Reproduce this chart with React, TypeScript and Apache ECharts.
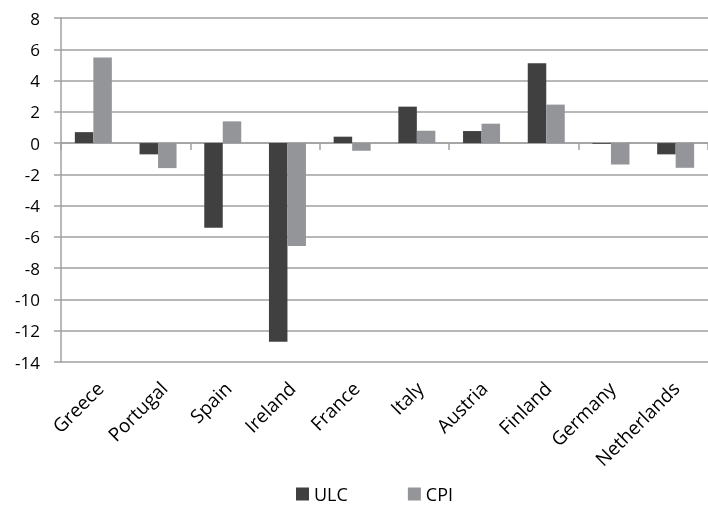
import React, { useEffect, useRef } from "react";
import * as echarts from "echarts";

const categories = ["Greece", "Portugal", "Spain", "Ireland", "France", "Italy", "Austria", "Finland", "Germany", "Netherlands"];
const ulc = [0.7, -0.72, -5.42, -12.71, 0.41, 2.33, 0.77, 5.11, -0.05, -0.72];
const cpi = [5.47, -1.6, 1.39, -6.58, -0.49, 0.79, 1.24, 2.46, -1.37, -1.58];
const yMin = -14;
const yMax = 8;
const yStep = 2;

export default function App() {
  const ref = useRef<HTMLDivElement>(null);
  useEffect(() => {
    if (!ref.current) return;
    const chart = echarts.init(ref.current, null, { renderer: "svg" });
    const font = "'Open Sans', sans-serif";
    const grey = "#a0a0a0";
    chart.setOption({
      animation: false,
      textStyle: { fontFamily: font },
      grid: [
        { left: 61, right: -8, top: 18, bottom: 143, containLabel: false },
        { left: 68, right: -15, top: 18, bottom: 143, containLabel: false },
      ],
      legend: {
        top: 480,
        left: 291,
        itemWidth: 13,
        itemHeight: 13,
        itemGap: 60,
        icon: "rect",
        textStyle: { fontSize: 18, color: "#000", fontFamily: font },
        data: ["ULC", "CPI"],
      },
      xAxis: [
        {
          type: "category",
          gridIndex: 0,
          data: categories,
          position: "bottom",
          axisLine: { show: true, onZero: true, lineStyle: { color: grey, width: 1.5 } },
          axisTick: { show: true, length: 7, lineStyle: { color: grey, width: 1.5 } },
          axisLabel: { show: false },
        },
        {
          type: "category",
          gridIndex: 1,
          data: categories,
          position: "bottom",
          axisLine: { show: false, onZero: false },
          axisTick: { show: false },
          axisLabel: { rotate: 45, fontSize: 19, color: "#000", margin: 23, interval: 0, fontFamily: font },
        },
      ],
      yAxis: [
        {
          type: "value",
          gridIndex: 0,
          min: yMin,
          max: yMax,
          interval: yStep,
          axisLine: { show: true, lineStyle: { color: grey, width: 1.5 } },
          axisTick: { show: true, length: 7, lineStyle: { color: grey, width: 1.5 } },
          splitLine: { show: true, lineStyle: { color: grey, width: 1.5 } },
          axisLabel: { fontSize: 17, color: "#000", margin: 21, fontFamily: font },
        },
        {
          type: "value",
          gridIndex: 1,
          min: yMin,
          max: yMax,
          interval: yStep,
          show: false,
        },
      ],
      series: [
        {
          name: "ULC",
          type: "bar",
          data: ulc,
          xAxisIndex: 0,
          yAxisIndex: 0,
          barWidth: 18.5,
          barGap: "0%",
          itemStyle: { color: "#404040" },
        },
        {
          name: "CPI",
          type: "bar",
          data: cpi,
          xAxisIndex: 0,
          yAxisIndex: 0,
          barWidth: 18.5,
          barGap: "0%",
          itemStyle: { color: "#939598" },
        },
      ],
    });
    return () => chart.dispose();
  }, []);
  return <div ref={ref} style={{ width: 708, height: 505, position: "fixed", left: 0, top: 0 }} />;
}
